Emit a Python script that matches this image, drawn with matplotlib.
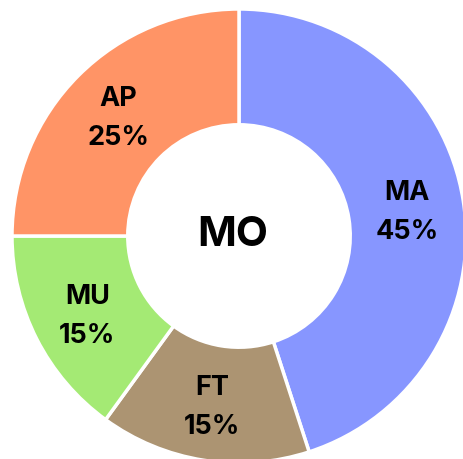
import matplotlib.pyplot as plt

plt.rcParams['font.family'] = ['Inter', 'DejaVu Sans']

# Share of each segment, clockwise from 12 o'clock
labels = ['MA', 'FT', 'MU', 'AP']
shares = [45, 15, 15, 25]
colors = ['#8796FF', '#AC9472', '#A4EA74', '#FF9466']
center_label = 'MO'

fig = plt.figure(figsize=(4.64, 4.59), dpi=100)
ax = fig.add_axes([0, 0, 1, 1])

cx, cy, R = 239, 223, 227

wedges, texts = ax.pie(
    shares, colors=colors, startangle=90, counterclock=False,
    center=(cx, cy), radius=R, frame=True,
    wedgeprops=dict(width=R * 0.51, edgecolor='white', linewidth=2.5),
    labels=[f'{l}\n{s}%' for l, s in zip(labels, shares)],
    labeldistance=0.75,
    textprops=dict(fontsize=19.5, fontweight='bold', color='black',
                   ha='center', va='center', linespacing=1.65),
)
# nudge the segment labels a little lower
for t in texts:
    x, y = t.get_position()
    t.set_position((x, y - 3))

ax.set_xlim(0, 464)
ax.set_ylim(0, 459)
ax.set_aspect('equal')
ax.axis('off')

ax.text(cx - 6, cy + 1, center_label, ha='center', va='center',
        fontsize=30, fontweight='bold', color='black')

plt.savefig('out.png', dpi=100)
